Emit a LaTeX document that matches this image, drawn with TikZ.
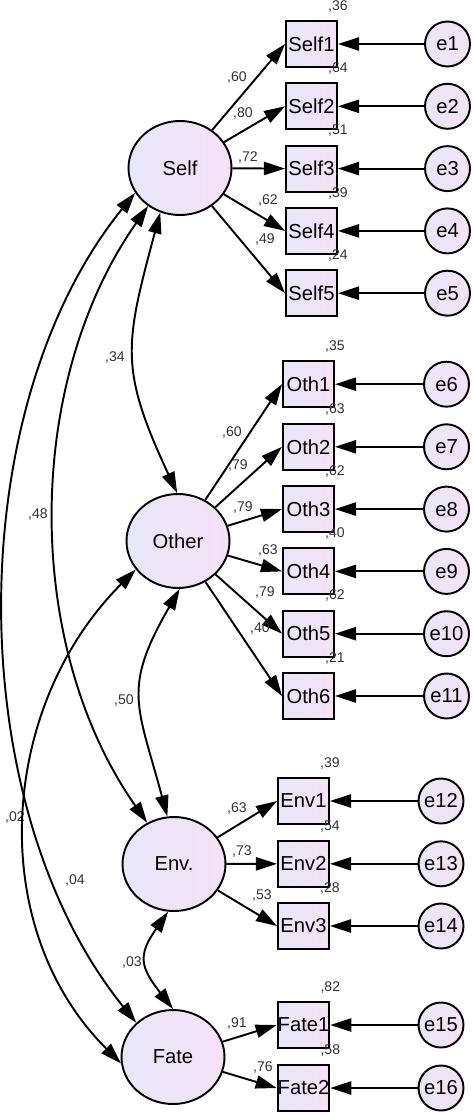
\documentclass[tikz,border=0pt]{standalone}
\usepackage{fontspec}
\setmainfont{Liberation Sans}
\usetikzlibrary{arrows.meta,shapes.geometric,positioning}
\definecolor{lavlinks}{RGB}{230,231,248}
\definecolor{lavrechts}{RGB}{246,225,247}
\tikzset{
  latent/.style={ellipse, draw, minimum width=2.06cm, minimum height=1.88cm, inner sep=0pt,
    left color=lavlinks, right color=lavrechts, font=\fontsize{11.5}{13}\selectfont},
  indik/.style={rectangle, draw, minimum width=1.02cm, minimum height=0.92cm, inner sep=0pt,
    left color=lavlinks, right color=lavrechts, font=\fontsize{11.5}{13}\selectfont},
  fehler/.style={circle, draw, minimum size=0.9cm, inner sep=0pt,
    left color=lavlinks, right color=lavrechts, font=\fontsize{11.5}{13}\selectfont},
  koeff/.style={inner sep=1pt, text=black!80, font=\fontsize{8}{9}\selectfont},
}
\begin{document}
\begin{tikzpicture}[x=0.02cm, y=0.02cm, >={Triangle[length=12pt,width=7.5pt]}, line width=1.1pt]
\useasboundingbox (0,0) rectangle (474,-1115);
% latente Variablen
\node[latent] (Self)  at (180,-168)  {Self};
\node[latent] (Other) at (178,-541)  {Other};
\node[latent] (Env)   at (174,-864)  {Env.};
\node[latent] (Fate)  at (173,-1057) {Fate};
% Self: Indikatoren, Fehler, Ladungen, R^2
\foreach \i/\y/\lx/\ly/\lam/\rq in {1/44/237/77/{,60}/{,36}, 2/106.3/243/113/{,80}/{,64},
    3/168.6/248/157/{,72}/{,51}, 4/230.9/268/200/{,62}/{,39}, 5/293.2/265/239/{,49}/{,24}} {
  \node[indik] (Self\i) at (311.5,-\y) {Self\i};
  \node[fehler] (e\i) at (447.5,-\y) {e\i};
  \node[koeff] at (\lx,-\ly) {\lam};
  \node[koeff, above=3pt] at (Self\i.north east) {\rq};
  \draw[->] (Self) -- (Self\i.west);
  \draw[->] (e\i) -- (Self\i);
}
% Other
\foreach \i/\e/\y/\lx/\ly/\lam/\rq in {1/6/384.2/232/432/{,60}/{,35}, 2/7/446.8/238/465/{,79}/{,63},
    3/8/509.1/243/507/{,79}/{,62}, 4/9/571.4/268/550/{,63}/{,40}, 5/10/633.7/265/592/{,79}/{,62},
    6/11/696/260/628/{,40}/{,21}} {
  \node[indik] (Oth\i) at (308.5,-\y) {Oth\i};
  \node[fehler] (e\e) at (446.5,-\y) {e\e};
  \node[koeff] at (\lx,-\ly) {\lam};
  \node[koeff, above=3pt] at (Oth\i.north east) {\rq};
  \draw[->] (Other) -- (Oth\i.west);
  \draw[->] (e\e) -- (Oth\i);
}
% Env
\foreach \i/\e/\y/\lx/\ly/\lam/\rq in {1/12/801/237/808/{,63}/{,39}, 2/13/863.8/242/851/{,73}/{,54},
    3/14/926/262/895/{,53}/{,28}} {
  \node[indik] (Env\i) at (303.5,-\y) {Env\i};
  \node[fehler] (e\e) at (441,-\y) {e\e};
  \node[koeff] at (\lx,-\ly) {\lam};
  \node[koeff, above=3pt] at (Env\i.north east) {\rq};
  \draw[->] (Env) -- (Env\i.west);
  \draw[->] (e\e) -- (Env\i);
}
% Fate
\foreach \i/\e/\y/\lx/\ly/\lam/\rq in {1/15/1025/237/1023/{,91}/{,82}, 2/16/1088/263/1067/{,76}/{,58}} {
  \node[indik] (Fate\i) at (303.5,-\y) {Fate\i};
  \node[fehler] (e\e) at (441,-\y) {e\e};
  \node[koeff] at (\lx,-\ly) {\lam};
  \node[koeff, above=3pt] at (Fate\i.north east) {\rq};
  \draw[->] (Fate) -- (Fate\i.west);
  \draw[->] (e\e) -- (Fate\i);
}
% Kovarianzen
\draw[<->] (Self.246) to[out=255, in=115, looseness=1.25] (Other.91);
\node[koeff] at (115,-357) {,34};
\draw[<->] (Self.230) to[out=235, in=125, looseness=0.9] (Env.123);
\node[koeff] at (38,-514) {,48};
\draw[<->] (Self.209) to[out=231, in=129, looseness=0.86] (Fate.137);
\node[koeff] at (15,-817) {,02};
\draw[<->] (Other.272) to[out=240, in=105, looseness=1.3] (Env.98);
\node[koeff] at (124,-700) {,50};
\draw[<->] (Other.214) to[out=225, in=135, looseness=1] (Fate.187);
\node[koeff] at (75,-880) {,04};
\draw[<->] (Env.263) to[out=235, in=128, looseness=1.4] (Fate.90);
\node[koeff] at (132,-962) {,03};
\end{tikzpicture}
\end{document}
